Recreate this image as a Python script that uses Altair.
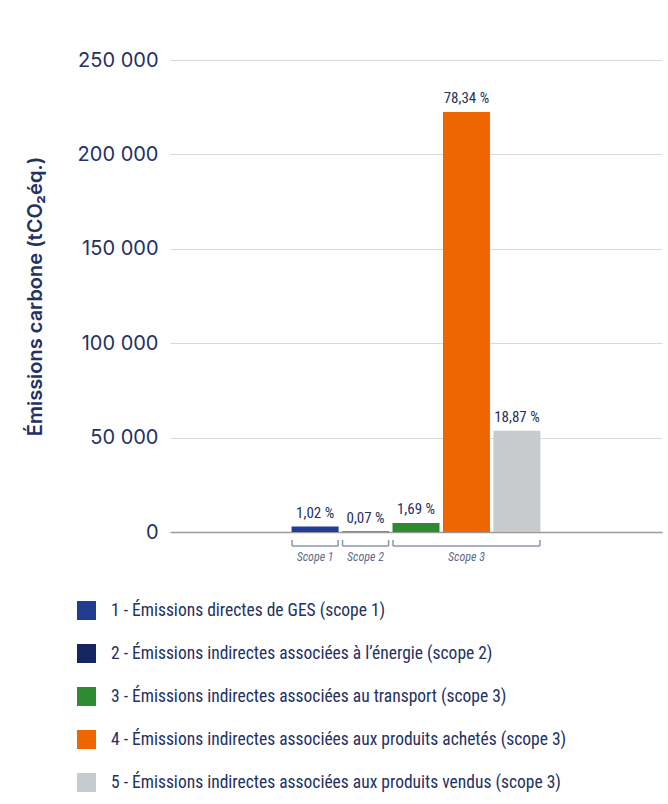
import altair as alt
import pandas as pd

categories = [
    "1 - Émissions directes de GES (scope 1)",
    "2 - Émissions indirectes associées à l’énergie (scope 2)",
    "3 - Émissions indirectes associées au transport (scope 3)",
    "4 - Émissions indirectes associées aux produits achetés (scope 3)",
    "5 - Émissions indirectes associées aux produits vendus (scope 3)",
]
positions = [1, 2, 3, 4, 5]
values = [2900, 200, 4800, 222500, 53600]
pct_labels = ["1,02 %", "0,07 %", "1,69 %", "78,34 %", "18,87 %"]
colors = ["#233c93", "#132660", "#2e8b30", "#ee6502", "#c8cbce"]

scope_names = ["Scope 1", "Scope 2", "Scope 3"]
scope_first = [1, 2, 3]
scope_last = [1, 2, 5]

y_ticks = [0, 50000, 100000, 150000, 200000, 250000]

NAVY = "#243163"
COND = "Liberation Sans Narrow, Roboto Condensed, DejaVu Sans Condensed, sans-serif"

df = pd.DataFrame({"cat": categories, "pos": positions, "val": values, "pct": pct_labels})
sc = pd.DataFrame({"name": scope_names, "first": scope_first, "last": scope_last})

xscale = alt.Scale(domain=[-1.777, 7.777], nice=False, zero=False)
yscale = alt.Scale(domain=[0, 250000], nice=False)

x_enc = alt.X("pos:Q", scale=xscale, axis=alt.Axis(labels=False, ticks=False, title=None, grid=False,
                                                      domain=True, domainColor="#9a9a9a", domainWidth=1.5))
y_enc = alt.Y("val:Q", scale=yscale, axis=alt.Axis(
    values=y_ticks, title="Émissions carbone (tCO₂éq.)", ticks=False, domain=False,
    grid=True, gridColor="#d9d9d9", gridWidth=1,
    labelExpr="replace(format(datum.value, ','), ',', ' ')",
    labelFont="Inter", labelFontSize=20, labelColor=NAVY, labelPadding=12,
    titleFont="Inter", titleFontSize=20, titleFontWeight=600, titleColor=NAVY, titlePadding=32,
))

bars = alt.Chart(df).mark_bar(size=47).encode(
    x=x_enc,
    y=y_enc,
    color=alt.Color("cat:N", sort=None, scale=alt.Scale(domain=categories, range=colors),
                    legend=alt.Legend(
                        title=None, orient="none", legendX=-93, legendY=541, direction="vertical",
                        symbolType="square", symbolSize=361, symbolStrokeWidth=0,
                        labelFont=COND, labelFontSize=17.5, labelColor=NAVY, labelOffset=15,
                        rowPadding=24, labelLimit=600,
                    )),
)

texts = alt.Chart(df).mark_text(dy=-6, baseline="bottom", font=COND, fontSize=15, color=NAVY).encode(
    x=alt.X("pos:Q", scale=xscale), y=alt.Y("val:Q", scale=yscale), text="pct:N"
)

base_sc = alt.Chart(sc).transform_calculate(
    lo="datum.first - 0.456", hi="datum.last + 0.456", mid="(datum.first + datum.last) / 2"
)
hline = base_sc.mark_rule(color="#8b95ad", strokeWidth=1.5).encode(
    x=alt.X("lo:Q", scale=xscale), x2="hi:Q", y=alt.value(486)
)
lt = base_sc.mark_rule(color="#8b95ad", strokeWidth=1.5).encode(
    x=alt.X("lo:Q", scale=xscale), y=alt.value(480), y2=alt.value(486)
)
rt = base_sc.mark_rule(color="#8b95ad", strokeWidth=1.5).encode(
    x=alt.X("hi:Q", scale=xscale), y=alt.value(480), y2=alt.value(486)
)
sctext = base_sc.mark_text(font=COND, fontSize=12, fontStyle="italic", color="#5d6b8e", baseline="middle").encode(
    x=alt.X("mid:Q", scale=xscale), y=alt.value(497), text="name:N"
)

chart = alt.layer(bars, texts, hline, lt, rt, sctext).properties(
    width=492, height=472,
    autosize=alt.AutoSizeParams(type="none"),
    padding={"left": 170, "top": 60, "right": 6, "bottom": 272},
).configure(background="white").configure_view(stroke=None)

chart.save("out.html", embed_options={"renderer": "svg", "actions": False})
